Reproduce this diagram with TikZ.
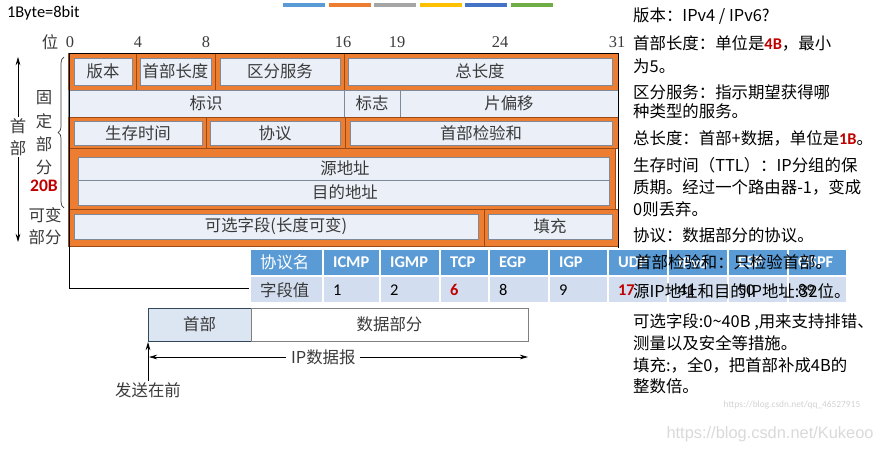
\documentclass[tikz,border=0pt]{standalone}
\usepackage{fontspec}
\setmainfont{Liberation Serif}
\newfontfamily\cjk{Noto Sans CJK SC}
\newfontfamily\cali{Carlito}
\newfontfamily\arialf{Liberation Sans}
\usetikzlibrary{arrows.meta, decorations.pathreplacing, positioning}
\definecolor{fieldor}{HTML}{ED7D31}
\definecolor{fieldedge}{HTML}{9C4A14}
\definecolor{cellbg}{HTML}{EBF0F8}
\definecolor{celledge}{HTML}{7E8A99}
\definecolor{txtgray}{HTML}{3A3A3A}
\definecolor{headblue}{HTML}{5B9BD5}
\definecolor{valblue}{HTML}{D2DEEF}
\definecolor{notered}{HTML}{C00000}
\definecolor{hdrbg}{HTML}{DCE6F2}
\definecolor{hdredge}{HTML}{34465A}
\definecolor{barA}{HTML}{5B9BD5}
\definecolor{barB}{HTML}{ED7D31}
\definecolor{barC}{HTML}{A5A5A5}
\definecolor{barD}{HTML}{FFC000}
\definecolor{barE}{HTML}{4472C4}
\definecolor{barF}{HTML}{70AD47}
\newcommand{\redB}[1]{{\cali\bfseries\color{notered}#1}}

\begin{document}
\begin{tikzpicture}[x=0.03cm, y=-0.03cm,
    orbox/.style={fill=fieldor, draw=fieldedge, line width=0.5pt},
    cell/.style={fill=cellbg, draw=celledge, line width=0.5pt},
    lbl/.style={font=\cjk\fontsize{14}{19}\selectfont, text=txtgray, inner sep=1pt, align=center},
    bitno/.style={font=\fontsize{14}{16}\selectfont, text=txtgray, inner sep=1pt},
    note/.style={anchor=west, font=\cjk\fontsize{14}{16}\selectfont, inner sep=0pt},
    thd/.style={anchor=west, text=white, font=\cali\bfseries\fontsize{14}{16}\selectfont},
    tvl/.style={anchor=west, font=\cali\fontsize{14}{16}\selectfont},
    arr/.style={-{Stealth[length=7pt, width=4pt]}, line width=0.7pt}]

    \useasboundingbox (0,0) rectangle (881,453);

    % Top
    \node[anchor=west, font=\cali\fontsize{14}{16}\selectfont] (byte) at (3,13) {1Byte=8bit};
    \foreach \c [count=\i] in {barA, barB, barC, barD, barE, barF}
        \fill[\c] ({283+(\i-1)*45.6},3) rectangle ++(42,4);

    % Bit positions
    \node[lbl] (bitlbl) at (50,42) {位};
    \foreach \b/\x in {0/70, 4/138, 8/206, 16/343, 19/397, 24/500, 31/617}
        \node[bitno] (bit\b) at (\x,42) {\b};

    % Row 1
    \foreach \a/\b/\c/\d/\nm/\t in {68/136/74/132/ver/版本, 136/215/140/211/hlen/首部长度,
            215/344/220/340/tos/区分服务, 344/618/348/612/tlen/总长度} {
        \draw[orbox] (\a,53) rectangle (\b,90);
        \draw[cell] (\c,58) rectangle (\d,85);
        \node[lbl] (\nm) at ({(\c+\d)/2},71.5) {\t};
    }

    % Row 2
    \draw[cell] (68,90) rectangle (344,117);
    \draw[cell] (344,90) rectangle (400,117);
    \draw[cell] (400,90) rectangle (618,117);
    \node[lbl] (ident) at (206,103.5) {标识};
    \node[lbl] (flags) at (372,103.5) {标志};
    \node[lbl] (frag) at (509,103.5) {片偏移};

    % Row 3
    \foreach \a/\b/\c/\d/\nm/\t in {68/206/74/202/ttl/生存时间, 206/345/210/340/proto/协议,
            345/618/350/612/csum/首部检验和} {
        \draw[orbox] (\a,117) rectangle (\b,148);
        \draw[cell] (\c,121) rectangle (\d,145);
        \node[lbl] (\nm) at ({(\c+\d)/2},133) {\t};
    }

    % Addresses
    \draw[orbox] (68,148) rectangle (615,209);
    \draw[cell] (78,157) rectangle (609,180);
    \draw[cell] (78,180) rectangle (609,205);
    \node[lbl] (src) at (345,168.5) {源地址};
    \node[lbl] (dst) at (345,192.5) {目的地址};

    % Options
    \draw[orbox] (68,209) rectangle (484,246);
    \draw[cell] (74,214) rectangle (478,239);
    \draw[orbox] (484,209) rectangle (618,246);
    \draw[cell] (488,214) rectangle (612,239);
    \node[lbl] (opt) at (276,226.5) {可选字段(长度可变)};
    \node[lbl] (pad) at (550,226.5) {填充};

    % Frame
    \draw[line width=0.6pt] (250,288) -- (69,288) -- (69,53) -- (618,53) -- (618,248);

    % Left labels
    \draw[decorate, decoration={brace, amplitude=5pt}, draw=txtgray, line width=0.6pt] (64,208) -- (64,57);
    \node[lbl, font=\cjk\fontsize{14}{20}\selectfont] (fixed) at (44,133) {固\\定\\部\\分};
    \node[font=\cali\bfseries\fontsize{15}{17}\selectfont, text=notered, inner sep=1pt] (fixsz) at (44,186) {20B};
    \node[lbl] (varpt) at (45,226) {可变\\部分};
    \node[lbl] (hdr) at (18,137) {首\\部};
    \coordinate (hdtop) at (18,57);
    \coordinate (hdbot) at (18,242);
    \draw[arr] (hdr) -- (hdtop);
    \draw[arr] (hdr) -- (hdbot);

    % Protocol table
    \foreach \a/\b/\h/\v in {323/380/ICMP/1, 380/440/IGMP/2, 440/489/TCP/{\bfseries\color{notered}6},
            489/549/EGP/8, 549/608/IGP/9, 608/668/UDP/{\bfseries\color{notered}17},
            668/728/IPv6/41, 728/788/ESP/50, 788/847/OSPF/89} {
        \draw[fill=headblue, draw=white, line width=1pt] (\a,249) rectangle (\b,276);
        \draw[fill=valblue, draw=white, line width=1pt] (\a,276) rectangle (\b,303);
        \node[thd] (h\a) at (\a+6,262.5) {\h};
        \node[tvl] (v\a) at (\a+6,290) {\v};
    }
    \draw[fill=headblue, draw=white, line width=1pt] (250,249) rectangle (323,276);
    \draw[fill=valblue, draw=white, line width=1pt] (250,276) rectangle (323,303);
    \node[thd, font=\cjk\fontsize{14}{16}\selectfont] (hname) at (256,262.5) {协议名};
    \node[tvl, font=\cjk\fontsize{14}{16}\selectfont, text=txtgray] (vname) at (256,290) {字段值};

    % Datagram
    \draw[fill=hdrbg, draw=hdredge, line width=0.7pt] (148,308) rectangle (251,341);
    \draw[draw=gray, line width=0.5pt] (251,308) rectangle (528,341);
    \node[lbl] (dhead) at (199.5,324.5) {首部};
    \node[lbl] (ddata) at (389.5,324.5) {数据部分};
    \coordinate (dgl) at (149,357);
    \coordinate (dgr) at (528,357);
    \draw[{Stealth[length=7pt, width=4pt]}-{Stealth[length=7pt, width=4pt]}, line width=0.6pt]
        (dgl) -- node[lbl, pos=0.46, fill=white, inner sep=4pt] (dgram) {IP数据报} (dgr);
    \node[lbl] (send) at (148,390) {发送在前};
    \coordinate (sendtip) at (148,342);
    \draw[arr] (send) -- (sendtip);

    % Notes
    \node[note] (nver) at (633,16) {版本：IPv4 / IPv6?};
    \node[note] (nhl1) at (633,43) {首部长度：单位是\redB{4B}，最小};
    \node[note] (nhl2) at (633,66) {为5。};
    \node[note] (ntos1) at (633,92) {区分服务：指示期望获得哪};
    \node[note] (ntos2) at (633,111) {种类型的服务。};
    \node[note] (ntl) at (633,138) {总长度：首部+数据，单位是\redB{1B}。};
    \node[note] (nttl1) at (633,165) {生存时间（TTL）：IP分组的保};
    \node[note] (nttl2) at (633,187) {质期。经过一个路由器-1，变成};
    \node[note] (nttl3) at (633,209) {0则丢弃。};
    \node[note] (nprt) at (633,235) {协议：数据部分的协议。};
    \node[note] (nchk) at (635,262) {首部检验和：只检验首部。};
    \node[note] (naddr) at (633,291) {源IP地址和目的IP地址:32位。};
    \node[note] (nopt1) at (633,322) {可选字段:0\textasciitilde 40B ,用来支持排错、};
    \node[note] (nopt2) at (633,343) {测量以及安全等措施。};
    \node[note] (npad1) at (633,365) {填充:，全0，把首部补成4B的};
    \node[note] (npad2) at (633,386) {整数倍。};

    % Watermarks
    \node[text=gray!35, font=\cali\fontsize{8}{9}\selectfont] (wm1) at (792,405) {https://blog.csdn.net/qq\_46527915};
    \node[text=gray!30, font=\arialf\fontsize{14}{16}\selectfont] (wm2) at (770,434) {https://blog.csdn.net/Kukeoo};
\end{tikzpicture}
\end{document}
